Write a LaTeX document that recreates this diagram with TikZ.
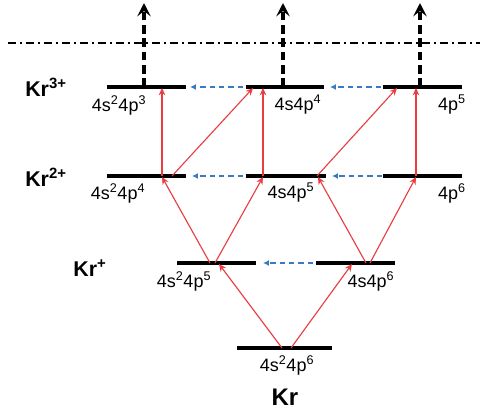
\documentclass[tikz,border=0pt]{standalone}
\usepackage{fontspec}
\setmainfont{Liberation Sans}
\usetikzlibrary{arrows.meta,calc}
\definecolor{redarr}{RGB}{232,62,66}
\definecolor{bluearr}{RGB}{58,122,196}
\tikzset{
  lev/.style={minimum width=#1, minimum height=0pt, inner sep=0pt, outer sep=0pt},
  levline/.style={line width=2.4pt, black},
  ionize/.style={line width=2.4pt, dash pattern=on 6.5pt off 3.5pt, -{Stealth[length=10pt,width=10pt,inset=4pt]}},
  limitline/.style={line width=1.5pt, dash pattern=on 6pt off 3pt on 1.5pt off 3pt},
  relax/.style={bluearr, line width=1.1pt, dash pattern=on 4pt off 3pt, -{Latex[length=4.5pt,width=4.5pt]}},
  excite/.style={redarr, line width=0.85pt, -{Stealth[length=5.5pt,width=5pt]}},
  cfg/.style={font=\fontsize{13.5}{15}\selectfont, inner sep=0pt},
  ion/.style={font=\fontsize{16}{18}\selectfont\bfseries, inner sep=0pt},
}
\begin{document}
\begin{tikzpicture}[x=0.75pt,y=-0.75pt]
\useasboundingbox (0,0) rectangle (480,412);
% levels
\node[lev=59.25pt] (k3a) at (146.5,87) {};
\node[lev=58.5pt]  (k3b) at (285,87) {};
\node[lev=59.25pt] (k3c) at (422.5,87) {};
\node[lev=59.25pt] (k2a) at (146.5,176) {};
\node[lev=60pt]    (k2b) at (286,176) {};
\node[lev=59.25pt] (k2c) at (422.5,176) {};
\node[lev=59.25pt] (k1a) at (216.5,263) {};
\node[lev=59.25pt] (k1b) at (355.5,263) {};
\node[lev=71.25pt] (k0)  at (284.5,348) {};
\foreach \n in {k3a,k3b,k3c,k2a,k2b,k2c,k1a,k1b,k0}
  \draw[levline] (\n.west) -- (\n.east);
% ionization limit
\coordinate (limL) at (8,43);
\coordinate (limR) at (480,43);
\draw[limitline] (limL) -- (limR);
% ionizing arrows
\coordinate (topa) at (144,3);
\coordinate (topb) at (283,3);
\coordinate (topc) at (420,3);
\draw[ionize] ($(k3a)+(-2.5,0)$) -- (topa);
\draw[ionize] ($(k3b)+(-2,0)$) -- (topb);
\draw[ionize] ($(k3c)+(-2.5,0)$) -- (topc);
% relaxation arrows
\draw[relax] ($(k3b.west)+(-3,0)$) -- ($(k3a.east)+(4,0)$);
\draw[relax] ($(k3c.west)+(-2,0)$) -- ($(k3b.east)+(6,0)$);
\draw[relax] ($(k2b.west)+(-3,0)$) -- ($(k2a.east)+(6,0)$);
\draw[relax] ($(k2c.west)+(-1,0)$) -- ($(k2b.east)+(6,0)$);
\draw[relax] ($(k1b.west)+(-3,0)$) -- ($(k1a.east)+(7,0)$);
% excitation arrows
\draw[excite] ($(k0)+(-2.5,0)$) -- ($(k1a)+(2.5,1)$);
\draw[excite] ($(k0)+(6.5,0)$) -- ($(k1b)+(-3.5,1)$);
\draw[excite] ($(k1a)+(-6.5,0)$) -- ($(k2a)+(15.5,1)$);
\draw[excite] ($(k1a)+(-1.5,0)$) -- ($(k2b)+(-23,1)$);
\draw[excite] ($(k1b)+(10.5,0)$) -- ($(k2b)+(32,1)$);
\draw[excite] ($(k1b)+(14.5,0)$) -- ($(k2c)+(-6.5,1)$);
\draw[excite] ($(k2a)+(15.5,0)$) -- ($(k3a)+(15.5,1)$);
\draw[excite] ($(k2a)+(25.5,0)$) -- ($(k3b)+(-32,1)$);
\draw[excite] ($(k2b)+(-23,0)$) -- ($(k3b)+(-22,1)$);
\draw[excite] ($(k2b)+(31,0)$) -- ($(k3c)+(-25.5,1)$);
\draw[excite] ($(k2c)+(-6.5,0)$) -- ($(k3c)+(-6.5,1)$);
% configuration labels
\node[cfg] (c3a) at (119,105) {4s\textsuperscript{2}4p\textsuperscript{3}};
\node[cfg] (c3b) at (298,105) {4s4p\textsuperscript{4}};
\node[cfg] (c3c) at (452,105) {4p\textsuperscript{5}};
\node[cfg] (c2a) at (118,193) {4s\textsuperscript{2}4p\textsuperscript{4}};
\node[cfg] (c2b) at (291,193) {4s4p\textsuperscript{5}};
\node[cfg] (c2c) at (452,193) {4p\textsuperscript{6}};
\node[cfg] (c1a) at (184,281) {4s\textsuperscript{2}4p\textsuperscript{5}};
\node[cfg] (c1b) at (371,281) {4s4p\textsuperscript{6}};
\node[cfg] (c0)  at (287,365) {4s\textsuperscript{2}4p\textsuperscript{6}};
% ion labels
\node[ion] (i3) at (46,87) {Kr\textsuperscript{3+}};
\node[ion] (i2) at (46,177) {Kr\textsuperscript{2+}};
\node[ion] (i1) at (90,268) {Kr\textsuperscript{+}};
\node[ion, font=\fontsize{18}{20}\selectfont\bfseries] (i0) at (285,397) {Kr};
\end{tikzpicture}
\end{document}
